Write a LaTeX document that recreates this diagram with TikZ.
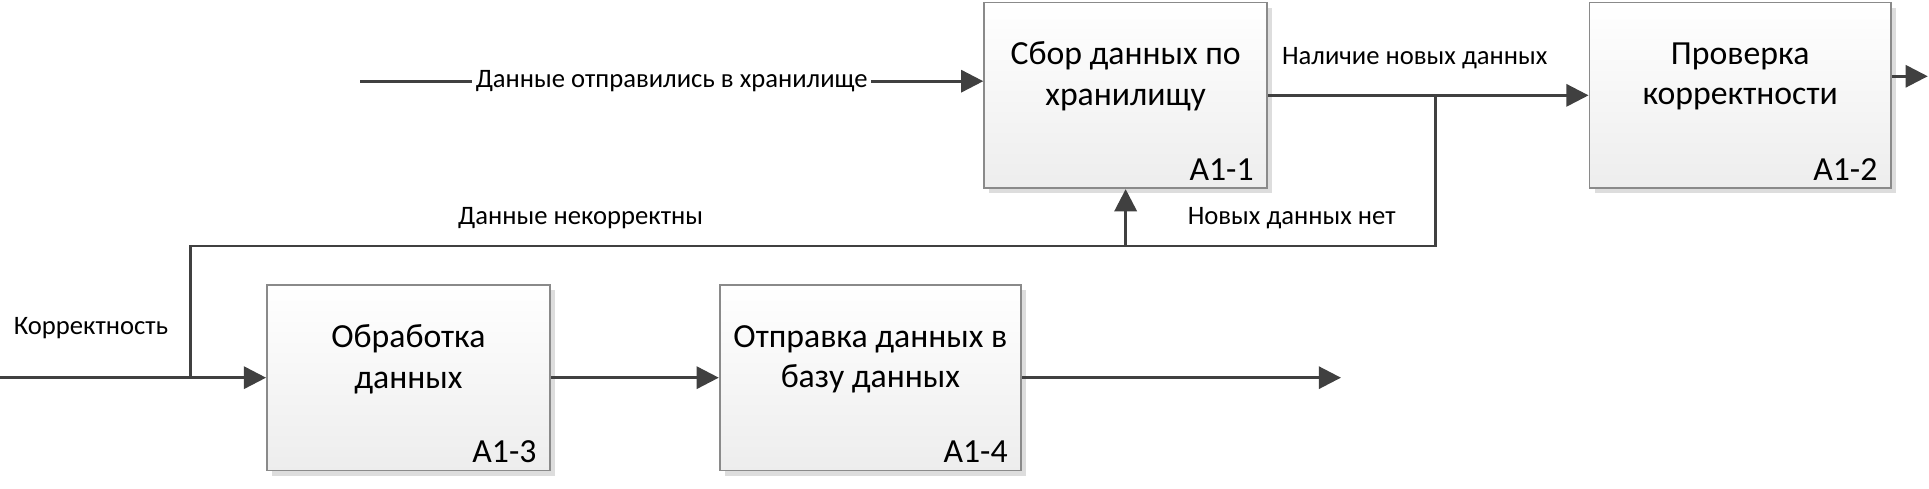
\documentclass[tikz,border=0pt]{standalone}
\usepackage{fontspec}
\setmainfont{Carlito}
\usetikzlibrary{arrows.meta,shadows,calc}
\definecolor{linec}{HTML}{404040}
\definecolor{boxborder}{HTML}{8A8A8A}
\tikzset{
  box/.style={draw=boxborder, line width=0.5pt, top color=white, bottom color=black!7,
    inner sep=0pt, drop shadow={shadow xshift=1.5pt, shadow yshift=-1.5pt, fill=black!22, opacity=0.6}},
  boxtext/.style={align=center, font=\fontsize{9.75}{11.7}\selectfont, inner sep=0pt},
  idtext/.style={font=\fontsize{9.75}{11.7}\selectfont, inner sep=0pt},
  lbl/.style={font=\fontsize{7.7}{9.5}\selectfont, inner sep=1pt},
  wire/.style={draw=linec, line width=0.8pt},
  conn/.style={wire, -{Triangle[length=6.4pt,width=6.4pt]}},
}
\begin{document}
\begin{tikzpicture}[x=0.0125cm,y=-0.0125cm]
\useasboundingbox (0,0) rectangle (1568,397);
% boxes
\node[box, minimum width=2.875cm, minimum height=1.8875cm] (b1) at (915,77.5) {};
\node[box, minimum width=3.0625cm, minimum height=1.8875cm] (b2) at (1414.5,77.5) {};
\node[box, minimum width=2.875cm, minimum height=1.8875cm] (b3) at (332,307) {};
\node[box, minimum width=3.0625cm, minimum height=1.8875cm] (b4) at (707.5,307) {};
% box texts
\node[boxtext] (t1) at (915,62) {Сбор данных по\\хранилищу};
\node[boxtext] (t2) at (1414.5,62) {Проверка\\корректности};
\node[boxtext] (t3) at (332,292) {Обработка\\данных};
\node[boxtext] (t4) at (707.5,292) {Отправка данных в\\базу данных};
\node[idtext] (i1) at (993,138) {A1-1};
\node[idtext] (i2) at (1500,138) {A1-2};
\node[idtext] (i3) at (410,367) {A1-3};
\node[idtext] (i4) at (793,367) {A1-4};
% coordinates
\coordinate (in1) at (293,66);
\coordinate (j1) at (1167,78);
\coordinate (fb) at (915,200);
\coordinate (L0) at (0,307);
\coordinate (j2) at (155,307);
\coordinate (o2) at (1567,62);
\coordinate (o4) at (1090,307);
% connectors
\draw[conn] (in1) -- (b1.west |- in1);
\node[lbl, fill=white] (l1) at (546,66) {Данные отправились в хранилище};
\draw[conn] (b1.east) -- (b2.west);
\node[lbl] (l2) at (1150,47) {Наличие новых данных};
\draw[conn] (j1) |- (fb) -- (b1.south);
\node[lbl] (l3) at (1050,177) {Новых данных нет};
\draw[wire] (j2) |- (fb);
\node[lbl] (l4) at (472,177) {Данные некорректны};
\draw[conn] (L0) -- (b3.west);
\node[lbl] (l5) at (74,267) {Корректность};
\draw[conn] (b2.east |- o2) -- (o2);
\draw[conn] (b3.east) -- (b4.west);
\draw[conn] (b4.east) -- (o4);
\end{tikzpicture}
\end{document}
